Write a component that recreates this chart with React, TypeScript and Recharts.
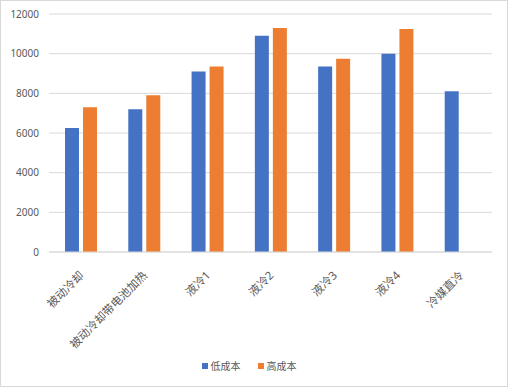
import React from 'react';
import { BarChart, Bar, XAxis, YAxis, CartesianGrid, Legend } from 'recharts';

const categories = ['被动冷却', '被动冷却带电池加热', '液冷1', '液冷2', '液冷3', '液冷4', '冷媒直冷'];
const lowCost = [6250, 7200, 9100, 10900, 9350, 10000, 8100];
const highCost: (number | null)[] = [7300, 7900, 9350, 11300, 9750, 11250, null];
const yTicks = [0, 2000, 4000, 6000, 8000, 10000, 12000];
const seriesNames = ['低成本', '高成本'];

const data = categories.map((c, i) => ({ name: c, low: lowCost[i], high: highCost[i] }));

const FONT = '"Noto Sans", "Noto Sans CJK SC", sans-serif';
const TEXT = '#595959';

const AngleTick = (props: any) => {
  const { x, y, payload } = props;
  return (
    <g transform={`translate(${x + 4},${y + 24})`}>
      <text transform="rotate(-45)" textAnchor="end" fontSize={11.5} fill={TEXT} fontFamily={FONT}>
        {payload.value}
      </text>
    </g>
  );
};

const LegendContent = () => (
  <div style={{ display: 'flex', justifyContent: 'center', alignItems: 'center', fontFamily: FONT, fontSize: 10, color: TEXT, paddingLeft: 6 }}>
    <span style={{ display: 'inline-block', width: 6, height: 6, background: '#4472C4', marginRight: 3 }} />
    <span style={{ marginRight: 17 }}>{seriesNames[0]}</span>
    <span style={{ display: 'inline-block', width: 6, height: 6, background: '#ED7D31', marginRight: 3 }} />
    <span>{seriesNames[1]}</span>
  </div>
);

export default function App() {
  return (
    <div style={{ position: 'absolute', left: 0, top: 0, width: 508, height: 387, background: '#fff' }}>
      <BarChart width={508} height={387} data={data} margin={{ top: 14, right: 16, left: 0, bottom: 0 }} barSize={14} barGap={4}>
        <CartesianGrid vertical={false} stroke="#d9d9d9" />
        <XAxis
          dataKey="name"
          interval={0}
          height={135}
          tickLine={false}
          tickSize={0}
          tickMargin={0}
          axisLine={{ stroke: '#d9d9d9' }}
          tick={<AngleTick />}
        />
        <YAxis
          width={49}
          domain={[0, 12000]}
          ticks={yTicks}
          tickLine={false}
          axisLine={false}
          tickSize={0}
          tickMargin={10}
          tick={{ fontSize: 10, fill: TEXT, fontFamily: FONT }}
        />
        <Legend
          layout="horizontal"
          verticalAlign="middle"
          align="center"
          content={<LegendContent />}
          wrapperStyle={{ top: 358, left: 0, width: 492 }}
        />
        <Bar dataKey="low" name={seriesNames[0]} fill="#4472C4" isAnimationActive={false} />
        <Bar dataKey="high" name={seriesNames[1]} fill="#ED7D31" isAnimationActive={false} />
      </BarChart>
      <div style={{ position: 'absolute', left: 0, top: 0, width: 508, height: 387, boxSizing: 'border-box', border: '1px solid #d9d9d9', pointerEvents: 'none' }} />
    </div>
  );
}
